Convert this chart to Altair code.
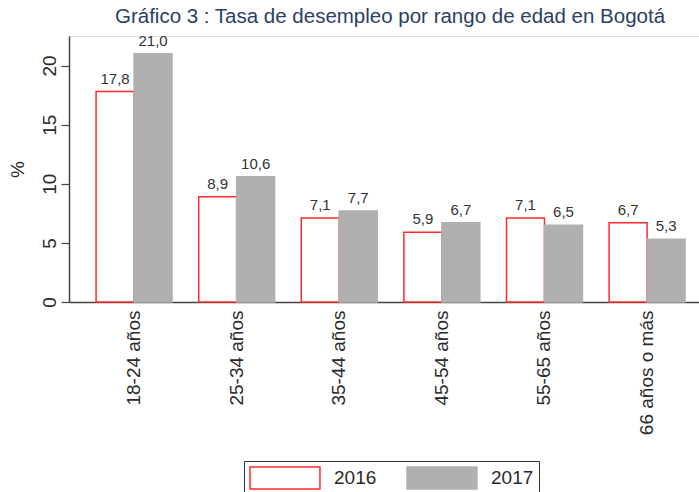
import altair as alt
import pandas as pd

categories = ["18-24 años", "25-34 años", "35-44 años", "45-54 años", "55-65 años", "66 años o más"]
years = ["2016", "2017"]
values_2016 = [17.8, 8.9, 7.1, 5.9, 7.1, 6.7]
values_2017 = [21.0, 10.6, 7.7, 6.7, 6.5, 5.3]
y_ticks = [0, 5, 10, 15, 20]

rows = []
for c, v16, v17 in zip(categories, values_2016, values_2017):
    for yr, v in (("2016", v16), ("2017", v17)):
        rows.append({"rango": c, "year": yr, "valor": v,
                     "label": f"{v:.1f}".replace(".", ",")})
df = pd.DataFrame(rows)

FONT = "Liberation Sans"
TXT = "#2a2a2a"
AX = "#444444"

x = alt.X(
    "rango:N", sort=categories, title=None,
    scale=alt.Scale(paddingInner=0.26, paddingOuter=0.2, align=0.66),
    axis=alt.Axis(labelAngle=-90, labelAlign="right", labelBaseline="middle",
                  ticks=False, labelPadding=8, labelFontSize=19, labelColor=TXT,
                  labelFont=FONT, domainColor=AX, domainWidth=1.5, labelLimit=300),
)
xoff = alt.XOffset("year:N", sort=years, scale=alt.Scale(paddingInner=0, paddingOuter=0))
y = alt.Y(
    "valor:Q",
    scale=alt.Scale(domain=[0, 22.5], nice=False),
    axis=alt.Axis(values=y_ticks, title="%", titleAngle=-90, titleFontSize=19,
                  titleFont=FONT, titleFontWeight="normal", titleColor=TXT,
                  titlePadding=13, labelAngle=-90, labelAlign="center",
                  labelBaseline="alphabetic", labelFontSize=19, labelFont=FONT,
                  labelColor=TXT, labelPadding=6, grid=False, tickSize=8,
                  tickColor=AX, tickWidth=1.2, domainColor=AX, domainWidth=1.5),
)

legend = alt.Legend(
    orient="none", legendX=175, legendY=425, direction="horizontal", title=None,
    symbolType="M-1,-1H5.36V1H-1Z", symbolSize=484, symbolStrokeWidth=1.5,
    labelOffset=61, labelFontSize=19, labelFont=FONT, labelColor=TXT,
    columnPadding=27, padding=5, strokeColor="#333333", fillColor="white",
    symbolOpacity=1,
)

bars = alt.Chart(df).mark_bar(strokeWidth=1.5).encode(
    x=x, xOffset=xoff, y=y,
    fill=alt.Fill("year:N", sort=years,
                  scale=alt.Scale(domain=years, range=["#ffffff", "#b0b0b0"]),
                  legend=legend),
    stroke=alt.Stroke("year:N", sort=years,
                      scale=alt.Scale(domain=years, range=["#ff2a2a", "#b0b0b0"]),
                      legend=legend),
)

text = alt.Chart(df).mark_text(baseline="bottom", dy=-5, fontSize=15,
                               font=FONT, color="#333333").encode(
    x=x, xOffset=xoff, y=y, text="label:N",
)

chart = alt.layer(bars, text).properties(
    width=630, height=266,
    title=alt.TitleParams("Gráfico 3 : Tasa de desempleo por rango de edad en Bogotá",
                          fontSize=20.5, font=FONT, color="#2b3f63",
                          fontWeight="normal", anchor="middle", offset=6, dx=6),
    autosize=alt.AutoSizeParams(type="none"),
    padding={"left": 69, "top": 36, "right": 0, "bottom": 190},
).configure_view(stroke=None).configure(background="white")

chart.save("out.html", embed_options={"renderer": "svg", "actions": False})
